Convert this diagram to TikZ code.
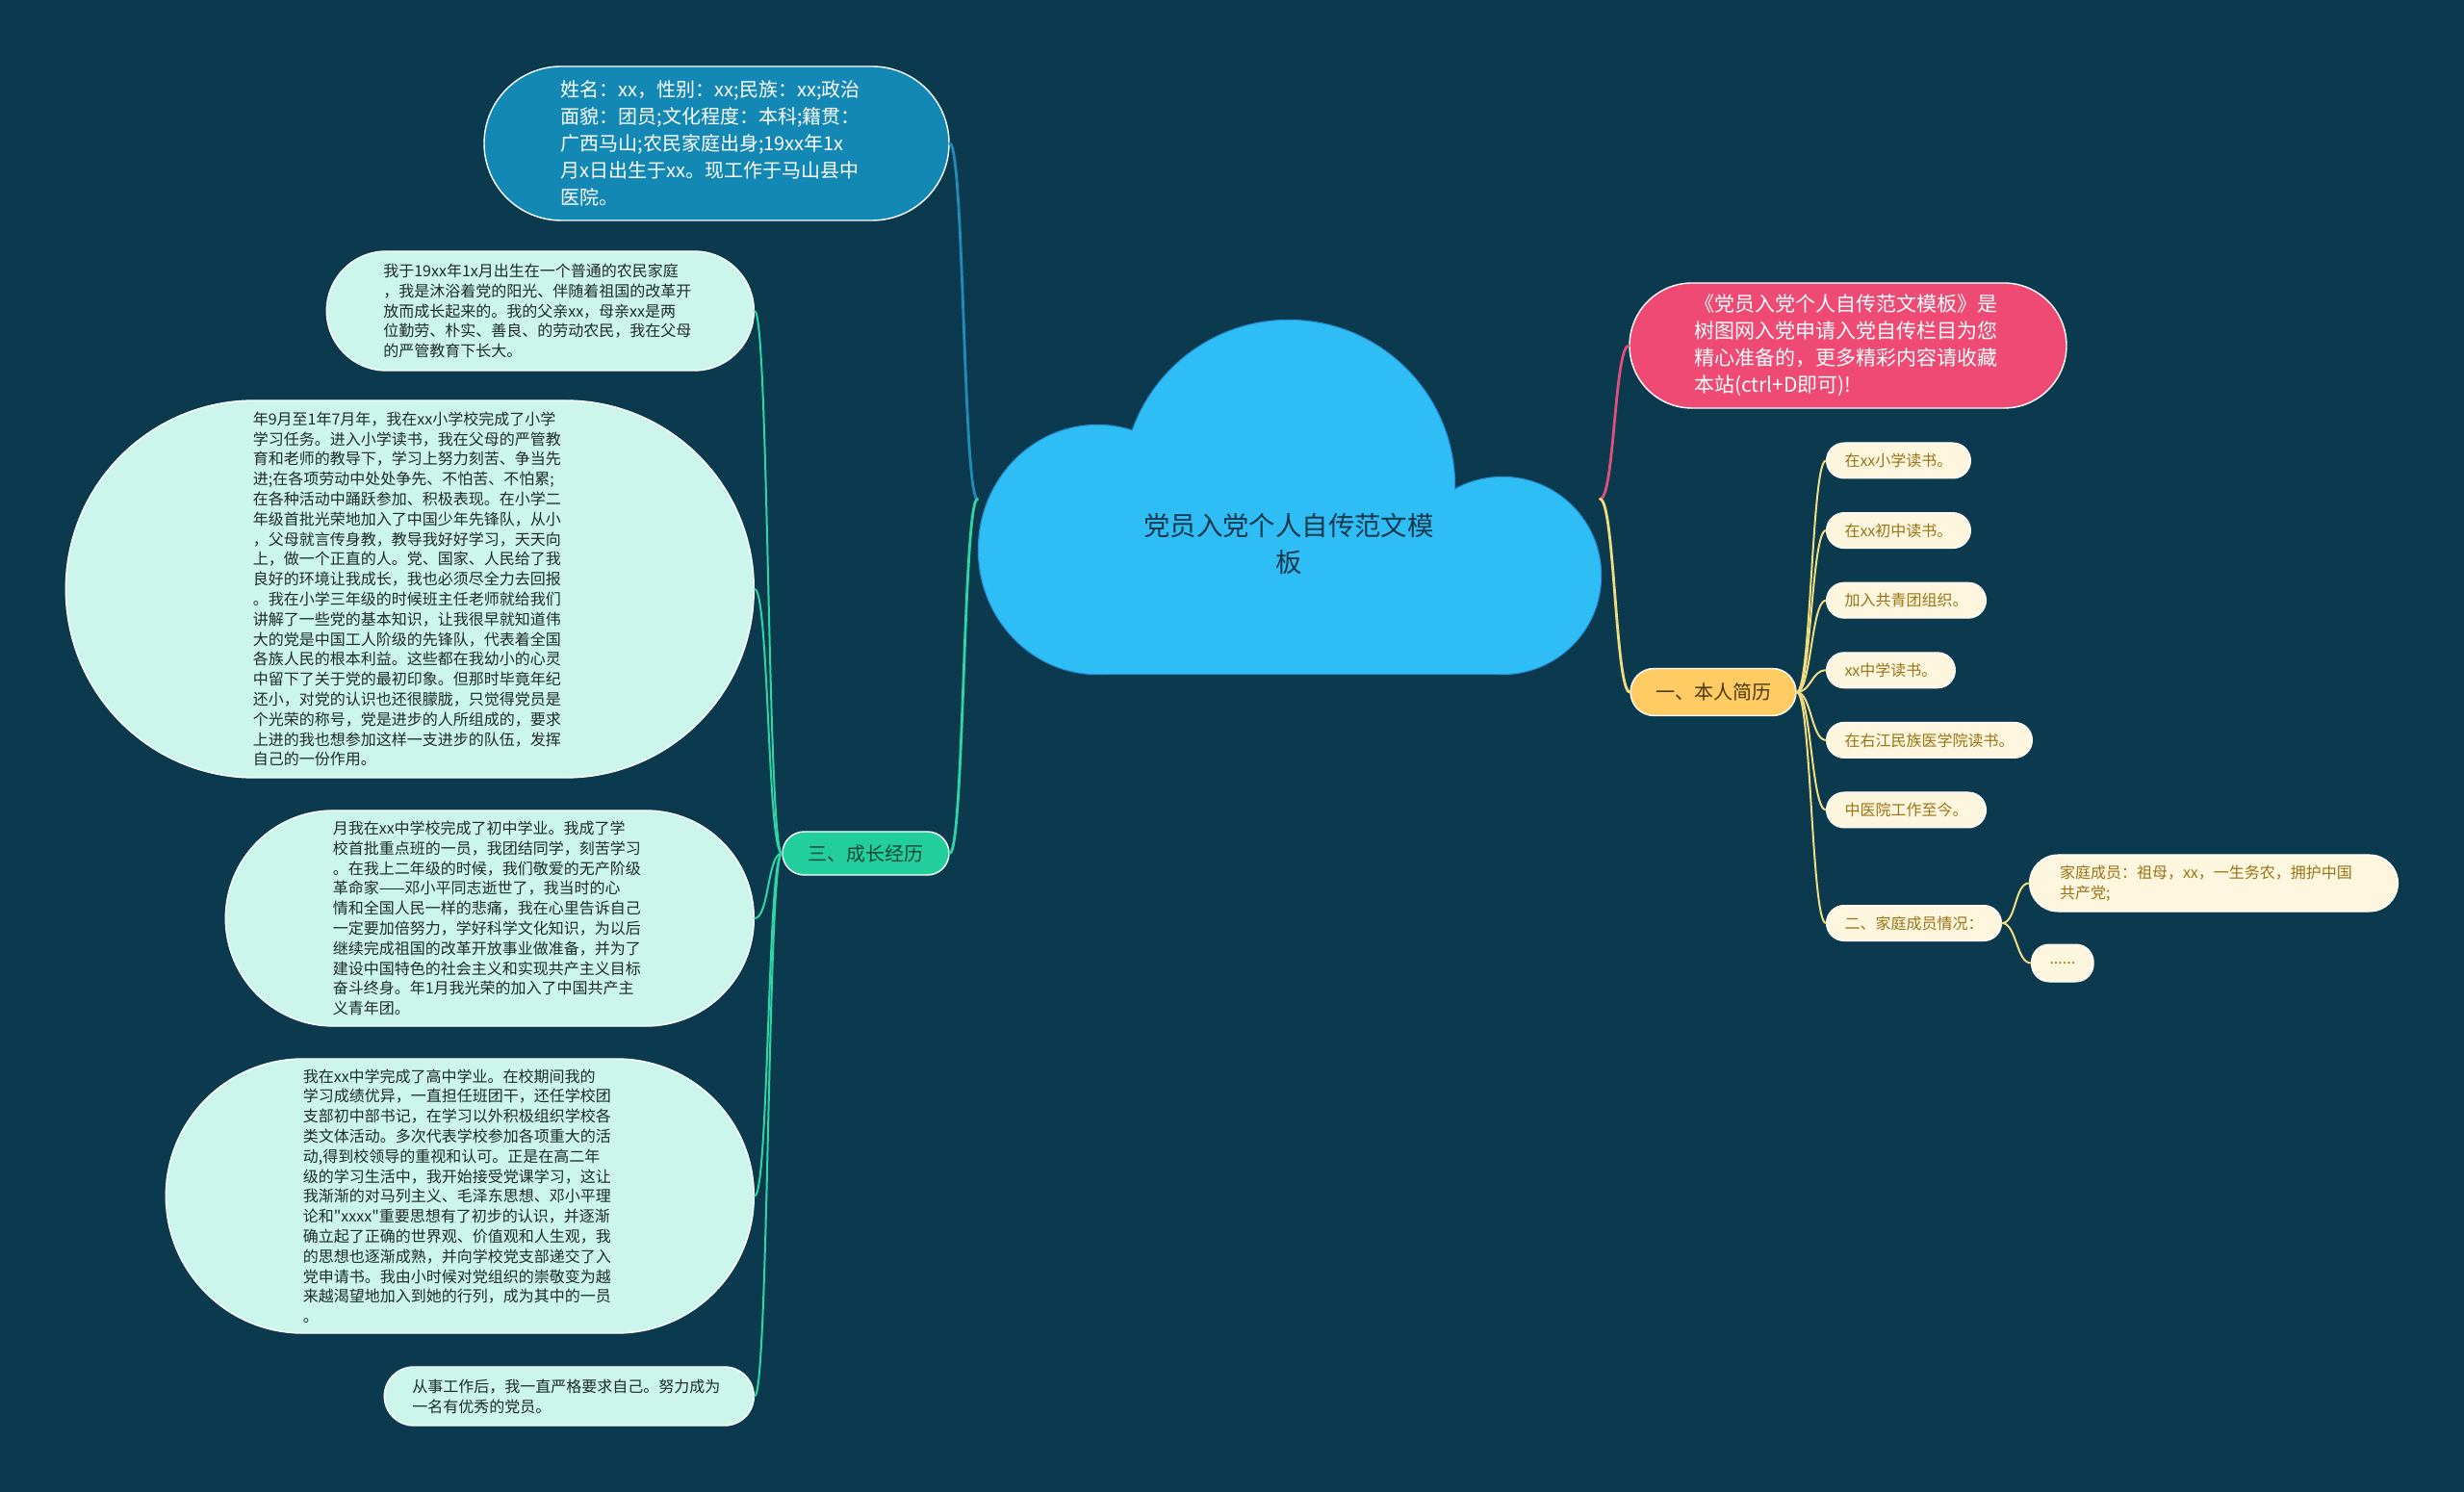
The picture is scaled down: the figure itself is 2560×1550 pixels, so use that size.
\documentclass[tikz,border=0pt]{standalone}
\usepackage{fontspec}
\setmainfont{Noto Sans CJK SC}[Ligatures=TeXOff]
\usepackage{tikz}
\usetikzlibrary{positioning}

\definecolor{bg}{HTML}{0B3A4E}
\definecolor{cloudfill}{HTML}{2EBEF5}
\definecolor{cloudline}{HTML}{2A8FD6}
\definecolor{titletext}{HTML}{14374B}
\definecolor{infofill}{HTML}{1488B4}
\definecolor{mintfill}{HTML}{CCF6EC}
\definecolor{minttext}{HTML}{1E2B2B}
\definecolor{greenfill}{HTML}{22CF9C}
\definecolor{greentext}{HTML}{17463A}
\definecolor{pinkfill}{HTML}{EE4A74}
\definecolor{yellowfill}{HTML}{FFCB63}
\definecolor{yellowtext}{HTML}{4A3810}
\definecolor{creamfill}{HTML}{FEF6DE}
\definecolor{creamtext}{HTML}{9A7414}
\definecolor{bluelink}{HTML}{1E8DBB}
\definecolor{greenlink}{HTML}{2ED6A3}
\definecolor{pinklink}{HTML}{E2507A}
\definecolor{yellowlink}{HTML}{F2DC80}

\begin{document}
\begin{tikzpicture}
 [x=0.5pt, y=-0.5pt,
  pill/.style 2 args={minimum width=#1, minimum height=#2, rounded corners=#2/2, inner sep=0pt},
  root node/.style={minimum width=323pt, minimum height=183.5pt, inner sep=0pt},
  title text/.style={text=titletext, align=center, font=\fontsize{13.7pt}{18.8pt}\selectfont},
  info node/.style={fill=infofill, draw=white, line width=0.7pt, text=white, align=left, text width=162pt, font=\fontsize{10pt}{14pt}\selectfont},
  story node/.style={fill=mintfill, draw=white, line width=0.7pt, text=minttext, align=left, text width=163pt, anchor=east, font=\fontsize{8pt}{10.4pt}\selectfont},
  topic node/.style={draw=white, line width=0.7pt, font=\fontsize{10pt}{12pt}\selectfont},
  leaf node/.style={fill=creamfill, draw=white, line width=0.5pt, text=creamtext, inner xsep=9.5pt, inner ysep=1pt, minimum height=18.5pt, rounded corners=9.25pt, font=\fontsize{8pt}{10.4pt}\selectfont},
  cloud part/.style={line width=1.2pt},
  link/.style={line cap=round, out distance=7.5pt, in distance=7.5pt},
  main link/.style={link, line width=1.4pt},
  sub link/.style={link, line width=1pt}]

 \fill[bg] (0,0) rectangle (2560,1550);
 \useasboundingbox (0,0) rectangle (2560,1550);

 % cloud: outline first, then fill over it
 \draw[cloud part, cloudline] (1140,571) ellipse [x radius=123, y radius=129];
 \draw[cloud part, cloudline] (1339,505) circle [radius=172];
 \draw[cloud part, cloudline] (1561,598) circle [radius=102];
 \draw[cloud part, cloudline] (1140,560) rectangle (1561,700);
 \fill[cloudfill] (1140,571) ellipse [x radius=123, y radius=129];
 \fill[cloudfill] (1339,505) circle [radius=172];
 \fill[cloudfill] (1561,598) circle [radius=102];
 \fill[cloudfill] (1140,560) rectangle (1561,700);

 \node[root node] (root) at (1339,518.5) {};
 \node[title text] (title) at (1339,565) {党员入党个人自传范文模\\板};

 % left side
 \node[info node, pill={241.5pt}{80pt}] (info) at (744.5,149) {姓名：xx，性别：xx;民族：xx;政治\\面貌：团员;文化程度：本科;籍贯：\\广西马山;农民家庭出身;19xx年1x\\月x日出生于xx。现工作于马山县中\\医院。};

 \node[topic node, fill=greenfill, text=greentext, pill={86.5pt}{22.5pt}] (growth) at (899.5,886.5) {三、成长经历};

 \node[story node, pill={222pt}{62pt}] (birth) at (784,323) {我于19xx年1x月出生在一个普通的农民家庭\\，我是沐浴着党的阳光、伴随着祖国的改革开\\放而成长起来的。我的父亲xx，母亲xx是两\\位勤劳、朴实、善良、的劳动农民，我在父母\\的严管教育下长大。};
 \node[story node, pill={357.5pt}{196pt}] (primary) at (784,612) {年9月至1年7月年，我在xx小学校完成了小学\\学习任务。进入小学读书，我在父母的严管教\\育和老师的教导下，学习上努力刻苦、争当先\\进;在各项劳动中处处争先、不怕苦、不怕累;\\在各种活动中踊跃参加、积极表现。在小学二\\年级首批光荣地加入了中国少年先锋队，从小\\，父母就言传身教，教导我好好学习，天天向\\上，做一个正直的人。党、国家、人民给了我\\良好的环境让我成长，我也必须尽全力去回报\\。我在小学三年级的时候班主任老师就给我们\\讲解了一些党的基本知识，让我很早就知道伟\\大的党是中国工人阶级的先锋队，代表着全国\\各族人民的根本利益。这些都在我幼小的心灵\\中留下了关于党的最初印象。但那时毕竟年纪\\还小，对党的认识也还很朦胧，只觉得党员是\\个光荣的称号，党是进步的人所组成的，要求\\上进的我也想参加这样一支进步的队伍，发挥\\自己的一份作用。};
 \node[story node, pill={274.5pt}{112pt}] (junior) at (784,954) {月我在xx中学校完成了初中学业。我成了学\\校首批重点班的一员，我团结同学，刻苦学习\\。在我上二年级的时候，我们敬爱的无产阶级\\革命家——邓小平同志逝世了，我当时的心\\情和全国人民一样的悲痛，我在心里告诉自己\\一定要加倍努力，学好科学文化知识，为以后\\继续完成祖国的改革开放事业做准备，并为了\\建设中国特色的社会主义和实现共产主义目标\\奋斗终身。年1月我光荣的加入了中国共产主\\义青年团。};
 \node[story node, pill={305.5pt}{142.5pt}] (senior) at (784,1242.5) {我在xx中学完成了高中学业。在校期间我的\\学习成绩优异，一直担任班团干，还任学校团\\支部初中部书记，在学习以外积极组织学校各\\类文体活动。多次代表学校参加各项重大的活\\动,得到校领导的重视和认可。正是在高二年\\级的学习生活中，我开始接受党课学习，这让\\我渐渐的对马列主义、毛泽东思想、邓小平理\\论和"xxxx"重要思想有了初步的认识，并逐渐\\确立起了正确的世界观、价值观和人生观，我\\的思想也逐渐成熟，并向学校党支部递交了入\\党申请书。我由小时候对党组织的崇敬变为越\\来越渴望地加入到她的行列，成为其中的一员\\。};
 \node[story node, pill={192pt}{30.5pt}] (work) at (784,1450.5) {从事工作后，我一直严格要求自己。努力成为\\一名有优秀的党员。};

 % right side
 \node[topic node, fill=pinkfill, text=white, align=left, text width=160pt, font=\fontsize{10.5pt}{14pt}\selectfont, pill={227pt}{65pt}] (intro) at (1920,359) {《党员入党个人自传范文模板》是\\树图网入党申请入党自传栏目为您\\精心准备的，更多精彩内容请收藏\\本站(ctrl+D即可)!};

 \node[topic node, fill=yellowfill, text=yellowtext, pill={86pt}{24.5pt}] (resume) at (1780,719) {一、本人简历};

 \node[leaf node, anchor=west] (s1) at (1897,478.5) {在xx小学读书。};
 \node[leaf node, below=17.3pt of s1.south west, anchor=north west] (s2) {在xx初中读书。};
 \node[leaf node, below=17.3pt of s2.south west, anchor=north west] (s3) {加入共青团组织。};
 \node[leaf node, below=17.3pt of s3.south west, anchor=north west] (s4) {xx中学读书。};
 \node[leaf node, below=17.3pt of s4.south west, anchor=north west] (s5) {在右江民族医学院读书。};
 \node[leaf node, below=17.3pt of s5.south west, anchor=north west] (s6) {中医院工作至今。};
 \node[leaf node, anchor=west] (family) at (1897,959) {二、家庭成员情况：};

 \node[leaf node, anchor=west, align=left, text width=160pt, inner xsep=15.75pt, minimum height=29.5pt, rounded corners=14.75pt] (f1) at (2108,917.5) {家庭成员：祖母，xx，一生务农，拥护中国\\共产党;};
 \node[leaf node, anchor=west, minimum width=31pt, minimum height=19.5pt] (f2) at (2110,1000.5) {......};

 \path
  (root.west) edge [main link, bluelink, out=180, in=0] (info.east)
  (root.west) edge [main link, greenlink, out=180, in=0] (growth.east)

  (growth.west) edge [sub link, greenlink, out=180, in=0] (birth.east)
  (growth.west) edge [sub link, greenlink, out=180, in=0] (primary.east)
  (growth.west) edge [sub link, greenlink, out=180, in=0] (junior.east)
  (growth.west) edge [sub link, greenlink, out=180, in=0] (senior.east)
  (growth.west) edge [sub link, greenlink, out=180, in=0] (work.east)

  (root.east) edge [main link, pinklink, out=0, in=180] (intro.west)
  (root.east) edge [main link, yellowlink, out=0, in=180] (resume.west)

  (resume.east) edge [sub link, yellowlink, out=0, in=180] (s1.west)
  (resume.east) edge [sub link, yellowlink, out=0, in=180] (s2.west)
  (resume.east) edge [sub link, yellowlink, out=0, in=180] (s3.west)
  (resume.east) edge [sub link, yellowlink, out=0, in=180] (s4.west)
  (resume.east) edge [sub link, yellowlink, out=0, in=180] (s5.west)
  (resume.east) edge [sub link, yellowlink, out=0, in=180] (s6.west)
  (resume.east) edge [sub link, yellowlink, out=0, in=180] (family.west)

  (family.east) edge [sub link, yellowlink, out=0, in=180] (f1.west)
  (family.east) edge [sub link, yellowlink, out=0, in=180] (f2.west);

\end{tikzpicture}
\end{document}
